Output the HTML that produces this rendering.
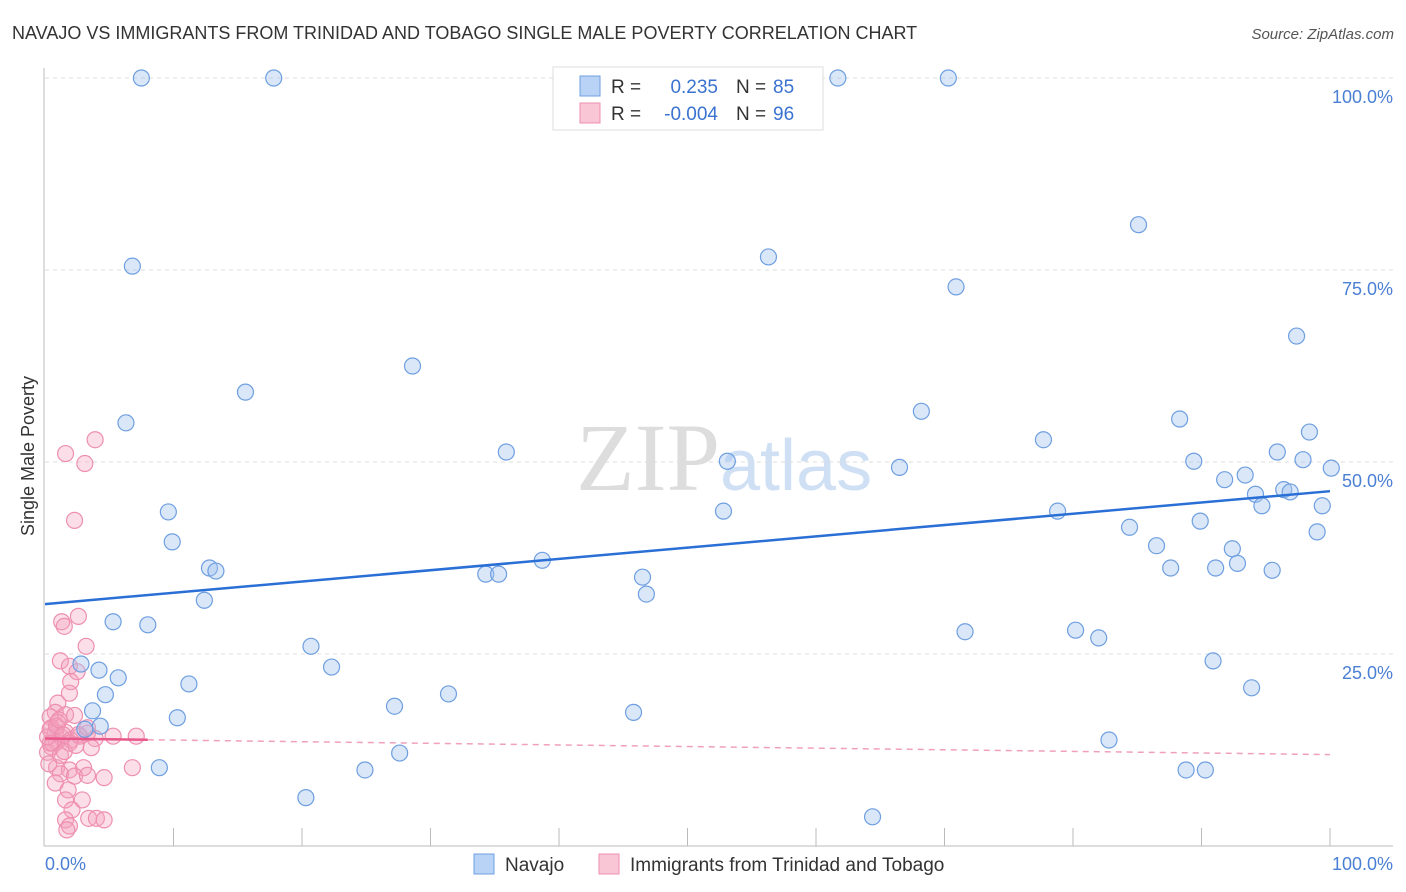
<!DOCTYPE html>
<html><head><meta charset="utf-8"><style>
body{margin:0;background:#fff;font-family:"Liberation Sans",sans-serif}
svg{display:block}
</style></head><body>
<svg id="chart" width="1406" height="892" xmlns="http://www.w3.org/2000/svg">
<text x="12" y="39" font-size="18" fill="#333">NAVAJO VS IMMIGRANTS FROM TRINIDAD AND TOBAGO SINGLE MALE POVERTY CORRELATION CHART</text>
<text x="1394" y="39" font-size="15" fill="#555" font-style="italic" text-anchor="end">Source: ZipAtlas.com</text>
<text x="720" y="490" font-size="96" fill="#ddd" text-anchor="end" font-family="Liberation Serif">ZIP</text>
<text x="720" y="490" font-size="72" fill="#cfe0f5">atlas</text>
<g id="grid"></g><g id="axes"></g><g id="marks"></g>
<text x="34" y="456" font-size="18" fill="#333" text-anchor="middle" transform="rotate(-90 34 456)">Single Male Poverty</text>
<text x="45" y="870" font-size="18" fill="#4a7fd4">0.0%</text>
<text x="1393" y="870" font-size="18" fill="#4a7fd4" text-anchor="end">100.0%</text>
<g>
<rect x="553" y="67" width="270" height="63" fill="#fff" stroke="#ddd"/>
<rect x="580" y="76" width="20" height="20" fill="#b8d3f5" stroke="#6f9fe0"/>
<rect x="580" y="103" width="20" height="20" fill="#f9c6d6" stroke="#ee8fb0"/>
<text x="611" y="93" font-size="19" fill="#333">R =</text><text x="718" y="93" font-size="19" fill="#3a72d0" text-anchor="end">0.235</text>
<text x="736" y="93" font-size="19" fill="#333">N =</text><text x="773" y="93" font-size="19" fill="#3a72d0">85</text>
<text x="611" y="120" font-size="19" fill="#333">R =</text><text x="718" y="120" font-size="19" fill="#3a72d0" text-anchor="end">-0.004</text>
<text x="736" y="120" font-size="19" fill="#333">N =</text><text x="773" y="120" font-size="19" fill="#3a72d0">96</text>
</g>
<g>
<rect x="474" y="854" width="20" height="20" fill="#b8d3f5" stroke="#6f9fe0"/>
<text x="505" y="871" font-size="19" fill="#333">Navajo</text>
<rect x="599" y="854" width="20" height="20" fill="#f9c6d6" stroke="#ee8fb0"/>
<text x="630" y="871" font-size="19" fill="#333">Immigrants from Trinidad and Tobago</text>
</g>
</svg>
<script>
const yTicks=[25,50,75,100];
const yTickLabels=["25.0%","50.0%","75.0%","100.0%"];
const navajoX=[7.5,17.8,40.5,61.7,70.3,6.8,56.3,85.1,70.9,97.4,28.6,15.6,6.3,68.2,88.3,77.7,98.4,35.9,53.1,66.5,89.4,95.9,97.9,100.1,91.8,93.4,94.2,96.4,96.9,94.7,99.4,9.6,52.8,78.8,89.9,9.9,84.4,86.5,92.4,99,38.7,12.8,13.3,34.3,35.3,46.5,87.6,91.1,92.8,95.5,46.8,12.4,5.3,8,71.6,80.2,82,20.7,22.3,2.8,4.2,5.7,11.2,4.7,90.9,93.9,31.4,27.2,3.7,10.3,45.8,4.3,3.1,82.8,27.6,8.9,24.9,88.8,90.3,20.3,64.4];
const navajoY=[100,100,100,100,100,75.5,76.7,80.9,72.8,66.4,62.5,59.1,55.1,56.6,55.6,52.9,53.9,51.3,50.1,49.3,50.1,51.3,50.3,49.2,47.7,48.3,45.8,46.4,46.1,44.3,44.3,43.5,43.6,43.6,42.3,39.6,41.5,39.1,38.7,40.9,37.2,36.2,35.8,35.4,35.4,35,36.2,36.2,36.8,35.9,32.8,32,29.2,28.8,27.9,28.1,27.1,26,23.3,23.7,22.9,21.9,21.1,19.7,24.1,20.6,19.8,18.2,17.6,16.7,17.4,15.6,15.2,13.8,12.1,10.2,9.9,9.9,9.9,6.3,3.8];
const trinX=[1.6,3.1,3.9,2.3,2.6,1.3,1.5,3.2,1.2,1.9,2.5,2,1.9,1,0.8,0.4,1.6,1,0.5,1.3,0.9,0.5,0.2,0.8,1.6,2.7,3.3,3.9,3.6,5.3,7.1,0.9,1.9,3,1.2,2.3,3.3,4.6,0.8,6.8,1.8,1.6,2.9,2.1,3.4,4,4.6,1.6,1.9,1.7,0.4,0.6,1.2,2,2.6,3.3,2.3,0.4,0.9,1.4,1.9,0.2,0.3,1.1,1.5,2.4];
const trinY=[51.1,49.8,52.9,42.4,29.9,29.2,28.6,26,24.1,23.4,22.7,21.4,19.9,18.6,17.4,16.8,17.1,16.1,15.4,14.1,13.5,12.9,12.2,14.7,14.8,14.3,14.7,14,12.8,14.3,14.3,10.2,9.9,10.2,9.4,9.1,9.2,8.9,8.2,10.2,7.3,6.0,6.0,4.7,3.6,3.6,3.4,3.4,2.6,2.1,15.2,13.4,11.8,13.8,14.5,15.4,17,13.4,15.6,14.5,13.4,14.2,10.7,16.4,12.3,13.1];
const blueTrend=[31.5,46.2];
const pinkTrend=[14,11.9];
const X=v=>45+v*12.85, Y=v=>846-v*7.68;
const NS="http://www.w3.org/2000/svg";
function mk(t,a,p){const e=document.createElementNS(NS,t);for(const k in a)e.setAttribute(k,a[k]);document.getElementById(p).appendChild(e);return e;}
yTicks.forEach((t,i)=>{
 const l=mk('line',{x1:45,x2:1393,y1:Y(t),y2:Y(t),stroke:'#ddd','stroke-dasharray':'4,4'},'grid');
 
 
 const tx=mk('text',{x:1393,y:Y(t)+25,'font-size':18,fill:'#4a7fd4','text-anchor':'end'},'grid');
 tx.textContent=yTickLabels[i];
 
 
});
let ax=mk('line',{x1:44,x2:44,y1:68,y2:846,stroke:'#bbb'},'axes');


ax=mk('line',{x1:44,x2:1393,y1:846,y2:846,stroke:'#bbb'},'axes');


for(let i=1;i<=10;i++){const t=mk('line',{x1:X(i*10),x2:X(i*10),y1:828,y2:846,stroke:'#bbb'},'axes');
 
 }
trinX.forEach((x,i)=>{const c=mk('circle',{cx:X(x),cy:Y(trinY[i]),r:8,fill:'rgba(244,160,190,0.35)',stroke:'#ee8fb0','stroke-width':1.2},'marks');
 
 });
navajoX.forEach((x,i)=>{const c=mk('circle',{cx:X(x),cy:Y(navajoY[i]),r:8,fill:'rgba(160,195,240,0.4)',stroke:'#6f9fe0','stroke-width':1.2},'marks');
 
 });
let tl=mk('line',{x1:X(0),y1:Y(blueTrend[0]),x2:X(100),y2:Y(blueTrend[1]),stroke:'#2a6fd6','stroke-width':2.5},'marks');


const pk=v=>pinkTrend[0]+(pinkTrend[1]-pinkTrend[0])*v/100;
tl=mk('line',{x1:X(0),y1:Y(pk(0)),x2:X(8),y2:Y(pk(8)),stroke:'#e8578a','stroke-width':2.5},'marks');


tl=mk('line',{x1:X(8),y1:Y(pk(8)),x2:X(100),y2:Y(pk(100)),stroke:'#f0a0bc','stroke-width':1.5,'stroke-dasharray':'6,5'},'marks');


</script>
</body></html>
